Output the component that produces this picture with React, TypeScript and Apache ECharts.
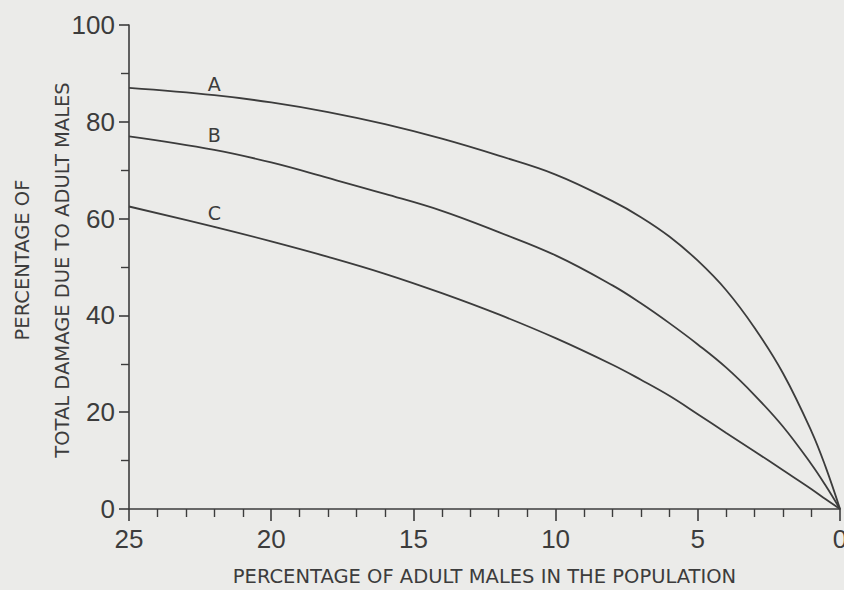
import React, { useEffect, useRef } from "react";
import * as echarts from "echarts";

// Percentage of adult males in the population (x) — shared by all curves
const malePct = [25, 22, 20, 18, 16, 14, 12, 10, 8, 7, 6, 5, 4, 3, 2, 1, 0.5, 0];
// Percentage of total damage due to adult males
const curveA = [87, 85.5, 84, 82, 79.5, 76.5, 73, 69.1, 63.6, 60.3, 56.3, 51.3, 45.2, 37.4, 28, 16, 8.6, 0];
const curveB = [77, 74.2, 71.6, 68.4, 65.1, 61.6, 57.2, 52.4, 46.2, 42.5, 38.4, 34, 29.2, 23.5, 17, 9.2, 4.8, 0];
const curveC = [62.5, 58.3, 55.3, 52.1, 48.6, 44.6, 40.2, 35.3, 29.8, 26.7, 23.4, 19.6, 15.7, 11.9, 8, 4.1, 2, 0];
const seriesNames = ["A", "B", "C"];
const labelAt = 22;

const xTitle = "PERCENTAGE OF ADULT MALES IN THE POPULATION";
const yTitleLines = ["PERCENTAGE OF", "TOTAL DAMAGE DUE TO ADULT MALES"];

const INK = "#3c3c3c";
const NUM_FONT = "Liberation Sans";
const TXT_FONT = "DejaVu Sans";
const TITLE_SIZE = 19.5;
const labelGap = [1, 5, 4];

export default function App() {
  const ref = useRef<HTMLDivElement>(null);
  useEffect(() => {
    if (!ref.current) return;
    const chart = echarts.init(ref.current, null, { renderer: "svg" });
    const build = (vals: number[], name: string, gap: number) =>
      malePct.map((x, i) =>
        x === labelAt
          ? {
              value: [x, vals[i]],
              label: {
                show: true,
                position: "top",
                distance: gap,
                formatter: name,
                color: INK,
                fontFamily: TXT_FONT,
                fontSize: 19,
              },
            }
          : { value: [x, vals[i]] }
      );
    const all = [curveA, curveB, curveC];
    chart.setOption({
      animation: false,
      backgroundColor: "#ebebe9",
      grid: {
        left: 129,
        right: 4,
        top: 25,
        bottom: 81,
        containLabel: false,
        outerBoundsMode: "none",
      },
      graphic: [
        {
          type: "text",
          x: 22,
          y: 260,
          rotation: Math.PI / 2,
          style: {
            text: yTitleLines[0],
            fill: INK,
            font: `${TITLE_SIZE}px "${TXT_FONT}"`,
            align: "center",
            verticalAlign: "middle",
          },
        },
        {
          type: "text",
          x: 62,
          y: 270,
          rotation: Math.PI / 2,
          style: {
            text: yTitleLines[1],
            fill: INK,
            font: `${TITLE_SIZE}px "${TXT_FONT}"`,
            align: "center",
            verticalAlign: "middle",
          },
        },
      ],
      xAxis: {
        type: "value",
        inverse: true,
        min: 0,
        max: 25,
        interval: 5,
        name: xTitle,
        nameLocation: "middle",
        nameGap: 57,
        nameTextStyle: { color: INK, fontFamily: TXT_FONT, fontSize: TITLE_SIZE },
        axisLine: { show: true, onZero: false, lineStyle: { color: INK, width: 1.6 } },
        axisTick: { show: true, length: 12, lineStyle: { color: INK, width: 1.6 } },
        minorTick: { show: true, splitNumber: 5, length: 8, lineStyle: { color: INK, width: 1.4 } },
        axisLabel: { color: INK, fontFamily: NUM_FONT, fontSize: 26, margin: 17 },
        splitLine: { show: false },
      },
      yAxis: {
        type: "value",
        min: 0,
        max: 100,
        interval: 20,
        axisLine: { show: true, onZero: false, lineStyle: { color: INK, width: 1.6 } },
        axisTick: { show: true, length: 10, lineStyle: { color: INK, width: 1.6 } },
        minorTick: { show: true, splitNumber: 2, length: 8, lineStyle: { color: INK, width: 1.4 } },
        axisLabel: { color: INK, fontFamily: NUM_FONT, fontSize: 26, margin: 14 },
        splitLine: { show: false },
      },
      series: all.map((vals, k) => ({
        type: "line",
        name: seriesNames[k],
        data: build(vals, seriesNames[k], labelGap[k]),
        smooth: 0.4,
        showSymbol: true,
        symbol: "circle",
        symbolSize: 1,
        itemStyle: { color: "rgba(0,0,0,0)" },
        lineStyle: { color: INK, width: 1.8 },
        clip: false,
      })),
    });
    return () => chart.dispose();
  }, []);
  return (
    <div
      ref={ref}
      style={{ position: "fixed", left: 0, top: 0, width: 844, height: 590, background: "#ebebe9" }}
    />
  );
}
